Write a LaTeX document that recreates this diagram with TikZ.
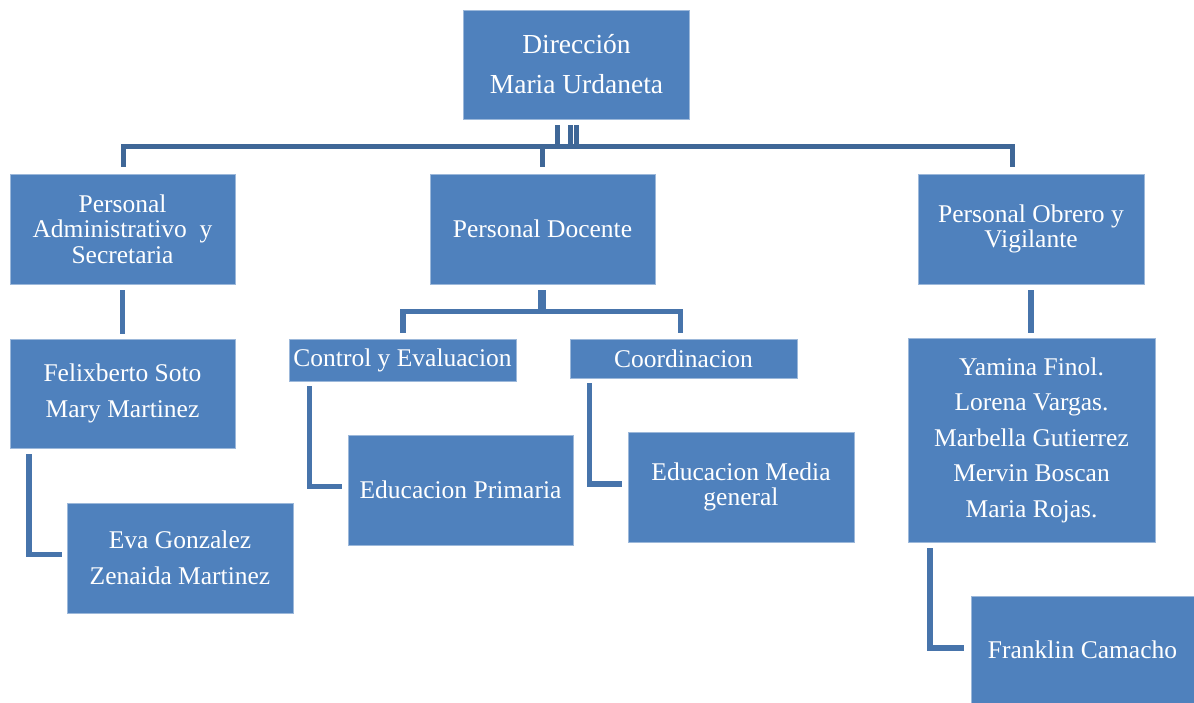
\documentclass[tikz,border=0pt]{standalone}
\usepackage{fontspec}
\setmainfont{Liberation Serif}
\usetikzlibrary{calc}
\definecolor{boxblue}{HTML}{4F81BD}
\definecolor{boxedge}{HTML}{9CB8DA}
\definecolor{busblue}{HTML}{3F6797}
\definecolor{linkblue}{HTML}{4774AB}
\begin{document}
\begin{tikzpicture}[x=1pt,y=-1pt,
  box/.style={fill=boxblue, draw=boxedge, line width=0.8pt, text=white, align=center, inner sep=0pt},
  single/.style={font=\fontsize{25.5}{30}\selectfont},
  tight/.style={font=\fontsize{25.5}{25.5}\selectfont},
  loose/.style={font=\fontsize{25.5}{35.5}\selectfont},
  bus/.style={draw=busblue, line width=5pt},
  link/.style={draw=linkblue, line width=5.5pt},
]
\fill[white] (0,0) rectangle (1194,702);
\useasboundingbox (0,0) rectangle (1194,702);

% boxes
\node[box, font=\fontsize{27.5}{40}\selectfont, minimum width=226pt, minimum height=109pt] (dir) at (576.5,64.5) {Dirección\\Maria Urdaneta};
\node[box, tight, minimum width=225pt, minimum height=110pt] (adm) at (122.5,229) {Personal\\Administrativo\ \ y\\Secretaria};
\node[box, single, minimum width=225pt, minimum height=110pt] (doc) at (542.5,229) {Personal Docente};
\node[box, tight, minimum width=226pt, minimum height=110pt] (obr) at (1031,229) {Personal Obrero y\\Vigilante};
\node[box, loose, minimum width=225pt, minimum height=109pt] (fel) at (122.5,393.5) {Felixberto Soto\\Mary Martinez};
\node[box, loose, minimum width=226pt, minimum height=110pt] (eva) at (180,558) {Eva Gonzalez\\Zenaida Martinez};
\node[box, single, minimum width=227pt, minimum height=42pt] (ctl) at (402.5,360) {Control y Evaluacion};
\node[box, single, minimum width=227pt, minimum height=39pt] (coo) at (683.5,358.5) {Coordinacion};
\node[box, single, minimum width=225pt, minimum height=110pt] (pri) at (460.5,490) {Educacion Primaria};
\node[box, tight, minimum width=226pt, minimum height=110pt] (med) at (741,487) {Educacion Media\\general};
\node[box, loose, minimum width=247pt, minimum height=204pt] (yam) at (1031.5,440) {Yamina Finol.\\Lorena Vargas.\\Marbella Gutierrez\\Mervin Boscan\\Maria Rojas.};
\node[box, single, minimum width=223pt, minimum height=108pt] (fra) at (1082.5,650) {Franklin Camacho};

% top bus
\coordinate (busmid) at ($(dir.south)+(0,27.5)$);
\draw[bus] ($(adm.north)+(0.5,-7)$) |- (busmid) -| ($(obr.north)+(-18.5,-7)$);
\draw[bus] ($(doc.north)+(-0.5,-7)$) -- ($(doc.north)+(-0.5,-27.5)$);
\draw[bus] ($(dir.south)+(-19.5,6)$) -- ($(dir.south)+(-19.5,28)$);
\draw[bus] ($(dir.south)+(-6,6)$) -- ($(dir.south)+(-6,28)$);
\draw[bus] ($(dir.south)+(0,6)$) -- ($(dir.south)+(0,28)$);

% vertical links
\draw[link] ($(adm.south)+(0,6)$) -- ($(fel.north)+(0,-5)$);
\draw[link] ($(obr.south)+(0,6)$) -- ($(obr.south)+(0,49)$);

% docente branch
\draw[link, line width=8.5pt] ($(doc.south)+(-0.5,6)$) -- ($(doc.south)+(-0.5,27)$);
\coordinate (docbr) at ($(doc.south)+(-0.5,27)$);
\draw[link] ($(ctl.north)+(0.5,-6)$) |- (docbr) -| ($(coo.north)+(-3,-6)$);

% L connectors
\draw[link] ($(fel.south west)+(19.5,6)$) |- ($(eva.west)+(-5,-3.5)$);
\draw[link] ($(ctl.south west)+(21,5)$) |- ($(pri.west)+(-6,-3.5)$);
\draw[link] ($(coo.south west)+(20,5)$) |- ($(med.west)+(-6,-3)$);
\draw[link] ($(yam.south west)+(22.5,6)$) |- ($(fra.west)+(-7,-2)$);
\end{tikzpicture}
\end{document}
